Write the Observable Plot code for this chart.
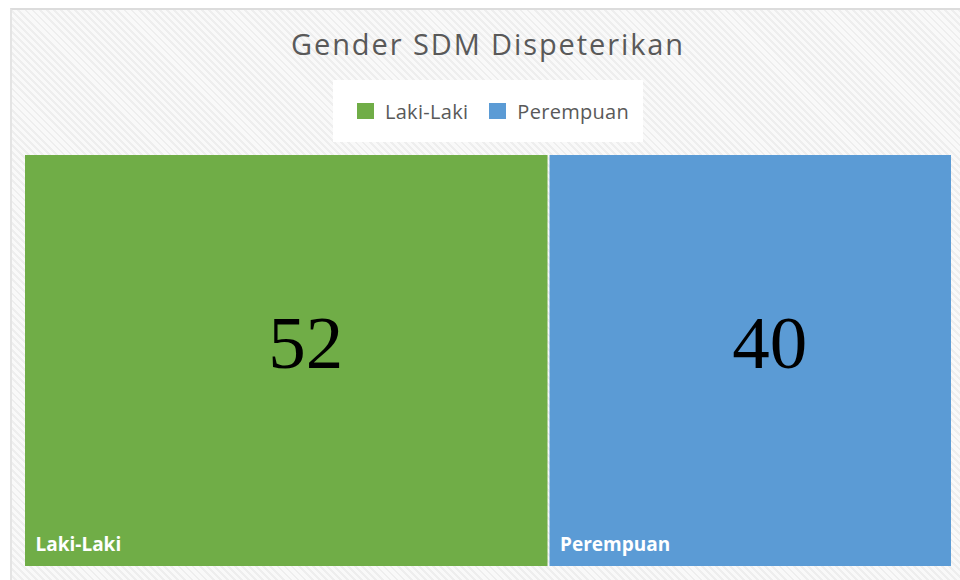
<!DOCTYPE html>
<html>
<head>
<meta charset="utf-8">
<script src="https://cdn.jsdelivr.net/npm/d3@7"></script>
<script src="https://cdn.jsdelivr.net/npm/@observablehq/plot@0.6"></script>
<style>
  html, body { margin: 0; padding: 0; background: #fff; }
  body { width: 960px; height: 580px; position: relative; overflow: hidden; font-family: "Open Sans", "Noto Sans", sans-serif; }
  #frame {
    position: absolute; left: 10px; top: 8px; width: 950px; height: 572px;
    border-top: 2px solid #dcdcdc; border-left: 2px solid #e4e4e4;
    background: repeating-linear-gradient(45deg, #f9f9f9 0px, #f9f9f9 3px, #eeeeee 3px, #eeeeee 5px);
  }
  #title {
    position: absolute; left: 0; top: 24px; width: 976px; text-align: center;
    font-size: 29px; letter-spacing: 1.9px; color: #595959; font-family: "Open Sans", sans-serif;
    line-height: normal;
  }
  #legend {
    position: absolute; left: 333px; top: 80px; width: 300px; padding-left: 10px; height: 62px; background: #fff;
    display: flex; align-items: center; justify-content: center; gap: 21px;
    font-size: 20px; letter-spacing: 0.3px; color: #595959; font-family: "Open Sans", sans-serif;
  }
  .item { display: flex; align-items: center; gap: 11px; }
  .sw { width: 17px; height: 16px; display: inline-block; }
  #chart { position: absolute; left: 0; top: 147px; }
</style>
</head>
<body>
<div id="frame"></div>
<div id="title">Gender SDM Dispeterikan</div>
<div id="legend"></div>
<div id="chart"></div>
<script>
const categories = ["Laki-Laki", "Perempuan"];
const values = [52, 40];
const colors = ["#70AD47", "#5B9BD5"];

const data = categories.map((c, i) => ({category: c, value: values[i]}));

const legend = document.getElementById("legend");
categories.forEach((c, i) => {
  const it = document.createElement("div");
  it.className = "item";
  it.innerHTML = `<span class="sw" style="background:${colors[i]}"></span><span>${c}</span>`;
  legend.appendChild(it);
});

const chart = Plot.plot({
  width: 960,
  height: 433,
  marginLeft: 24,
  marginRight: 8,
  marginTop: 7,
  marginBottom: 13,
  style: {background: "transparent", overflow: "visible"},
  x: {domain: [0, d3.sum(values)], axis: null},
  color: {domain: categories, range: colors},
  marks: [
    Plot.rectX(data, Plot.stackX({x: "value", fill: "category", inset: 1, order: null})),
    Plot.text(data, Plot.stackX({x: "value", text: d => String(d.value), order: null,
      fontFamily: "Liberation Serif, Times New Roman, serif", fontSize: 75, fill: "#000", dx: 19, dy: -17})),
    Plot.text(data, Plot.stackX1({x: "value", text: "category", order: null,
      frameAnchor: "bottom", lineAnchor: "bottom", textAnchor: "start", dx: 11, dy: -17,
      fill: "#fff", fontWeight: "bold", fontSize: 19, fontFamily: "Open Sans, sans-serif",
      style: "letter-spacing: 0.3px"}))
  ]
});
document.getElementById("chart").appendChild(chart);
</script>
</body>
</html>
